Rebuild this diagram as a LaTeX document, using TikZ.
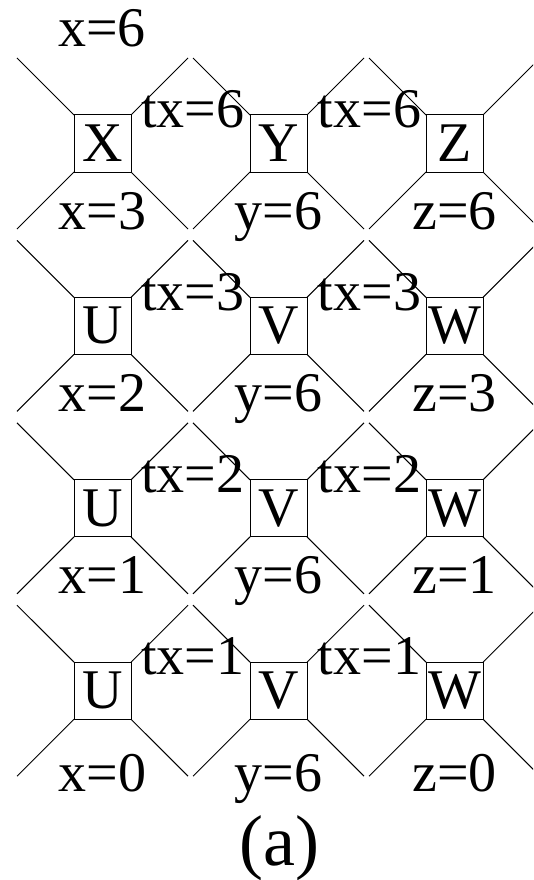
\documentclass[tikz,border=0pt]{standalone}
\usepackage{fontspec}
\setmainfont{Liberation Serif}
\begin{document}
\begin{tikzpicture}[x=1pt,y=-1pt,
  cell/.style={draw,line width=1pt,minimum size=57pt,inner sep=0pt,outer sep=0pt,font=\fontsize{56}{60}\selectfont},
  lbl/.style={anchor=base,inner sep=0pt,font=\fontsize{56}{60}\selectfont},
  captext/.style={anchor=base,inner sep=0pt,font=\fontsize{72}{76}\selectfont},
  wire/.style={line width=1pt}]
\useasboundingbox (0,0) rectangle (533,880);
\clip (0,0) rectangle (533,880);
\node[lbl] (top) at (102,46.5) {x=6};
\foreach \r/\A/\B/\C/\la/\lb/\lc/\t/\off in {0/X/Y/Z/x=3/y=6/z=6/6/85.5,1/U/V/W/x=2/y=6/z=3/3/85.5,2/U/V/W/x=1/y=6/z=1/2/85.5,3/U/V/W/x=0/y=6/z=0/1/101}{
  \pgfmathsetmacro\yc{143.5+182.4*\r}
  \node[cell] (a\r) at (102.5,\yc) {\A};
  \node[cell] (b\r) at (278.5,\yc) {\B};
  \node[cell] (c\r) at (454.5,\yc) {\C};
  \foreach \n in {a\r,b\r,c\r}{
    \draw[wire] (\n.north west) -- ++(-57,-57);
    \draw[wire] (\n.north east) -- ++(57,-57);
    \draw[wire] (\n.south west) -- ++(-57,57);
    \draw[wire] (\n.south east) -- ++(57,57);
  }
  \node[lbl] (la\r) at (102.5,\yc+\off) {\la};
  \node[lbl] (lb\r) at (278.5,\yc+\off) {\lb};
  \node[lbl] (lc\r) at (454.5,\yc+\off) {\lc};
  \node[lbl] (ta\r) at (193,\yc-15.8) {tx=\t};
  \node[lbl] (tb\r) at (369.5,\yc-15.8) {tx=\t};
}
\node[captext] (caption) at (279.3,865) {(a)};
\end{tikzpicture}
\end{document}
